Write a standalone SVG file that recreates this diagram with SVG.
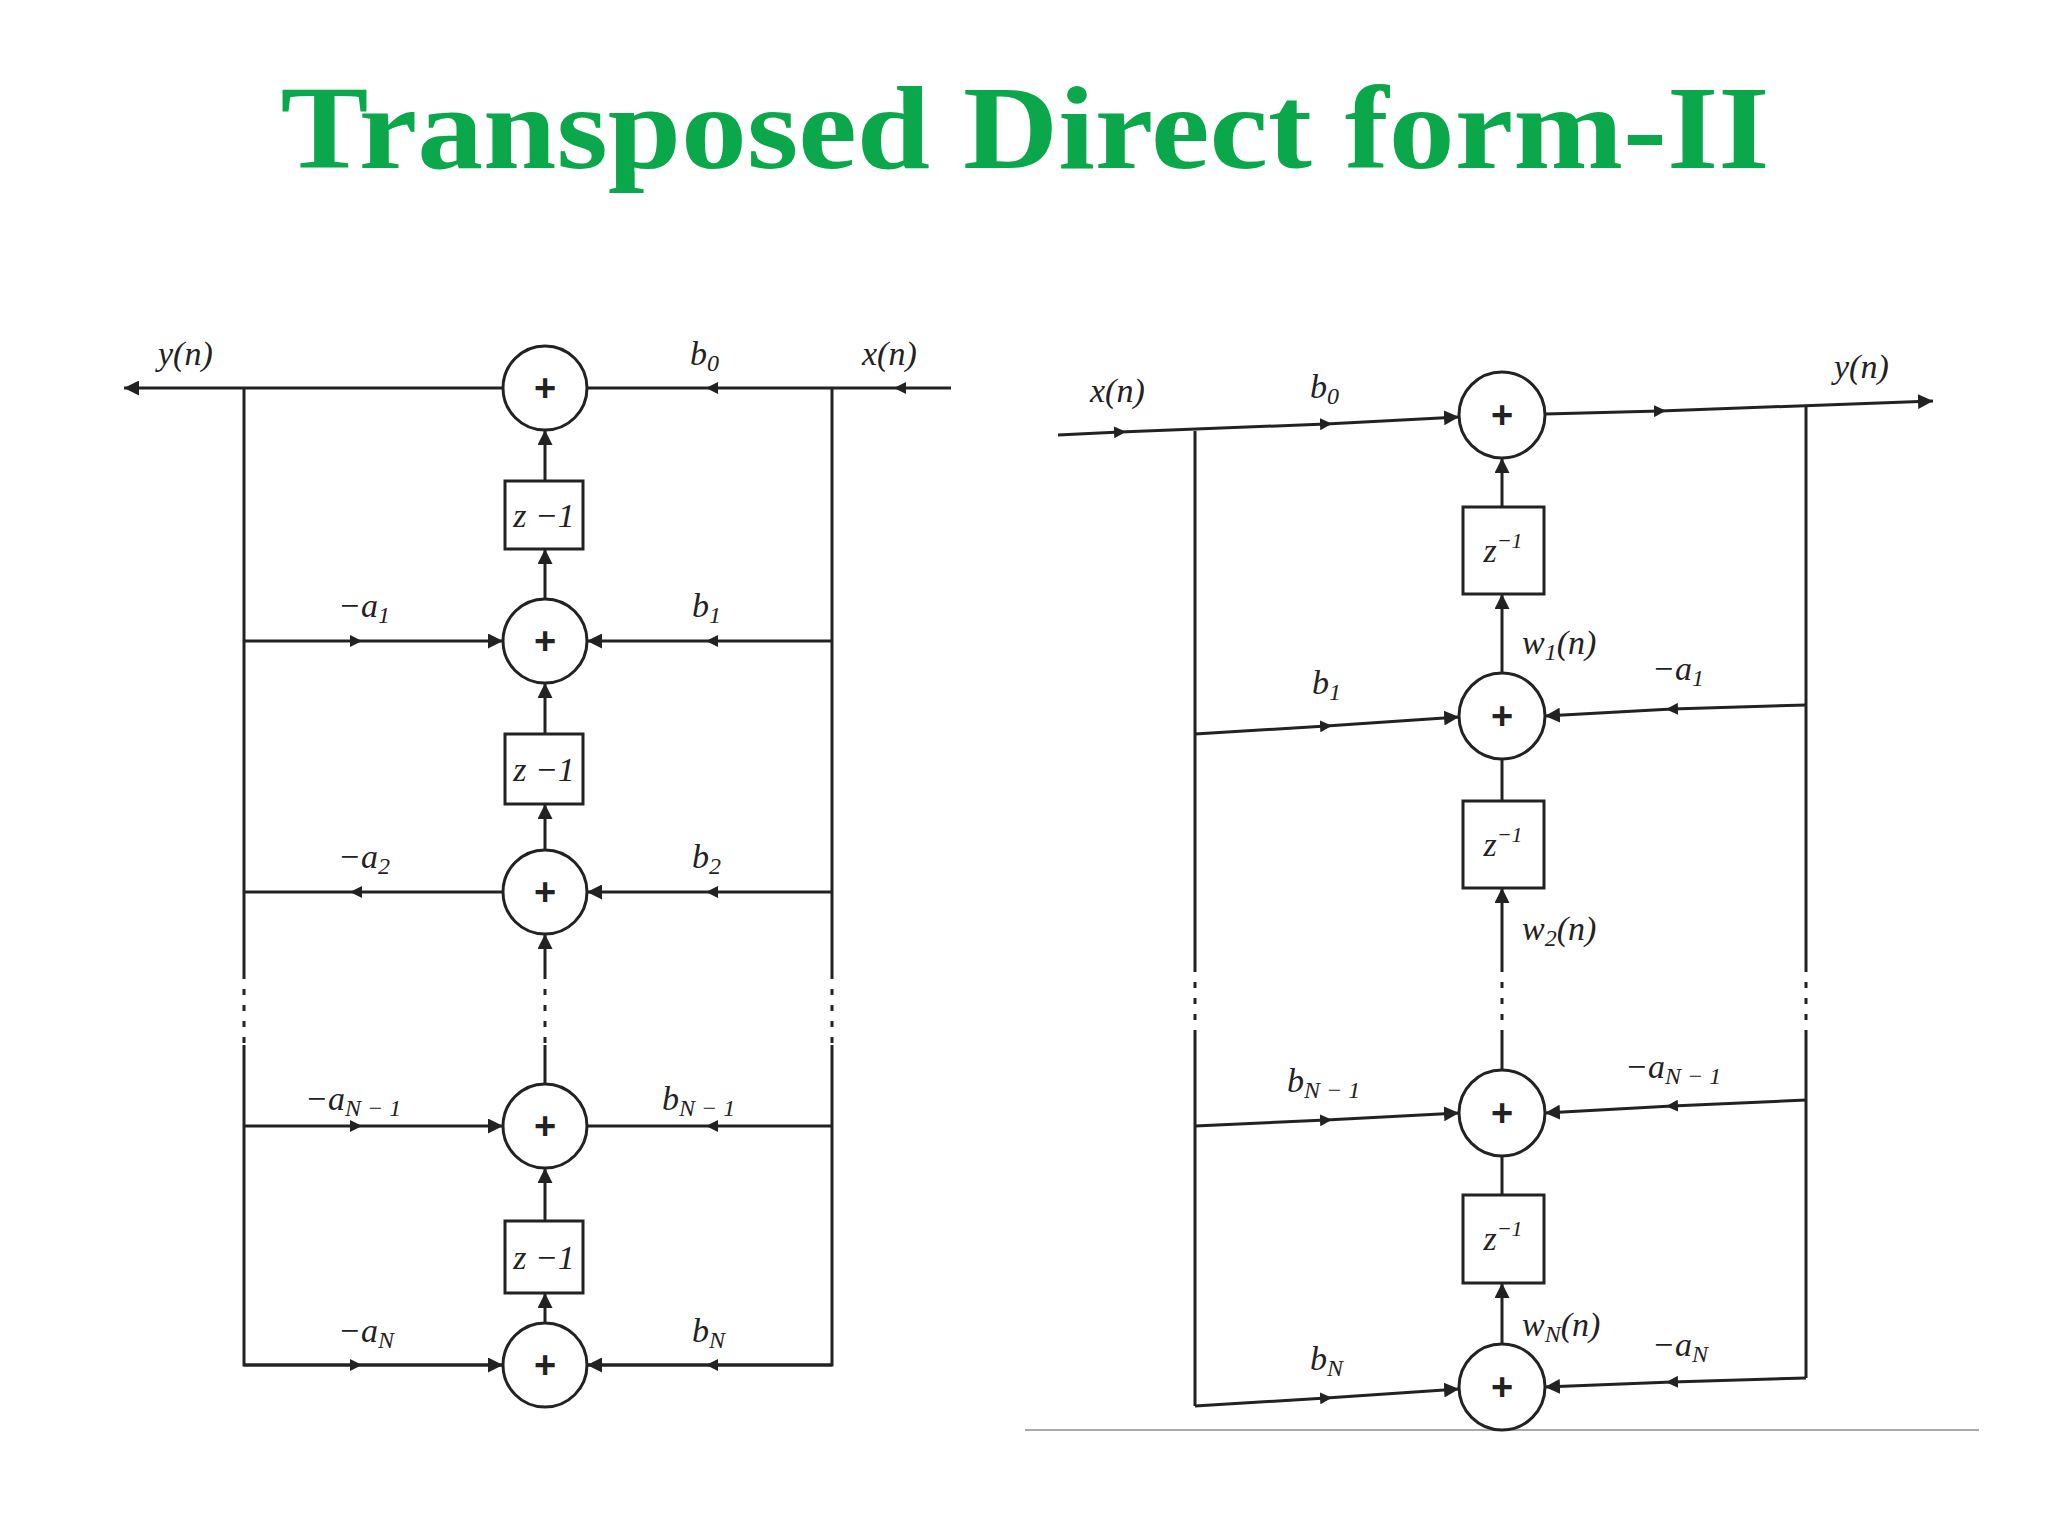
<svg xmlns="http://www.w3.org/2000/svg" width="2048" height="1536" viewBox="0 0 2048 1536">
<style>
.l{stroke:#222;stroke-width:3;fill:none}
.c{stroke:#222;stroke-width:3;fill:#fff}
.d{stroke:#222;stroke-width:3;stroke-dasharray:6 10;fill:none}
.t{font-family:"Liberation Serif",serif;font-style:italic;font-size:34px;fill:#222}
.p{font-family:"Liberation Sans",sans-serif;font-weight:bold;font-size:38px;fill:#222;text-anchor:middle}
.z{font-family:"Liberation Serif",serif;font-style:italic;font-size:34px;fill:#222;text-anchor:middle}
</style>
<defs>
<marker id="a" viewBox="0 0 10 10" refX="10" refY="5" markerWidth="5" markerHeight="5" orient="auto"><path d="M0,0L10,5L0,10z" fill="#222"/></marker>
<marker id="m" viewBox="0 0 10 10" refX="5" refY="5" markerWidth="4" markerHeight="4" orient="auto"><path d="M0,0L10,5L0,10z" fill="#222"/></marker>
</defs>
<rect width="2048" height="1536" fill="#fff"/>
<text x="1025" y="168" text-anchor="middle" font-family="Liberation Serif,serif" font-weight="bold" font-size="118" fill="#0aa84a" textLength="1489" lengthAdjust="spacingAndGlyphs">Transposed Direct form-II</text>
<g id="connectors">
<path class="l" d="M951,388L900,388" marker-end="url(#m)"/>
<path class="l" d="M900,388L832,388"/>
<path class="l" d="M832,388L712,388" marker-end="url(#m)"/>
<path class="l" d="M712,388L587,388"/>
<path class="l" d="M503,388L124,388" marker-end="url(#a)"/>
<path class="l" d="M244,388L244,973M244,1045L244,1365L503,1365"/>
<path class="d" d="M244,973L244,1045M545,973L545,1045M832,973L832,1045"/>
<path class="l" d="M832,388L832,973M832,1045L832,1365L587,1365"/>
<path class="l" d="M545,481L545,430" marker-end="url(#a)"/>
<path class="l" d="M545,599L545,549" marker-end="url(#a)"/>
<path class="l" d="M545,734L545,683" marker-end="url(#a)"/>
<path class="l" d="M545,850L545,804" marker-end="url(#a)"/>
<path class="l" d="M545,973L545,934" marker-end="url(#a)"/>
<path class="l" d="M545,1084L545,1045"/>
<path class="l" d="M545,1221L545,1168" marker-end="url(#a)"/>
<path class="l" d="M545,1323L545,1293" marker-end="url(#a)"/>
<path class="l" d="M244,641L356,641" marker-end="url(#m)"/><path class="l" d="M356,641L503,641" marker-end="url(#a)"/>
<path class="l" d="M832,641L712,641" marker-end="url(#m)"/><path class="l" d="M712,641L587,641" marker-end="url(#a)"/>
<path class="l" d="M503,892L356,892" marker-end="url(#m)"/><path class="l" d="M356,892L244,892"/>
<path class="l" d="M832,892L712,892" marker-end="url(#m)"/><path class="l" d="M712,892L587,892" marker-end="url(#a)"/>
<path class="l" d="M244,1126L356,1126" marker-end="url(#m)"/><path class="l" d="M356,1126L503,1126" marker-end="url(#a)"/>
<path class="l" d="M832,1126L712,1126" marker-end="url(#m)"/><path class="l" d="M712,1126L587,1126"/>
<path class="l" d="M244,1365L356,1365" marker-end="url(#m)"/><path class="l" d="M356,1365L503,1365" marker-end="url(#a)"/>
<path class="l" d="M832,1365L712,1365" marker-end="url(#m)"/><path class="l" d="M712,1365L587,1365" marker-end="url(#a)"/>
<path class="l" d="M1058,435L1120,432" marker-end="url(#m)"/><path class="l" d="M1120,432L1326,424" marker-end="url(#m)"/><path class="l" d="M1326,424L1459,417" marker-end="url(#a)"/>
<path class="l" d="M1545,414L1660,411" marker-end="url(#m)"/><path class="l" d="M1660,411L1933,401" marker-end="url(#a)"/>
<path class="l" d="M1195,431L1195,966M1195,1032L1195,1406"/>
<path class="d" d="M1195,966L1195,1032M1502,966L1502,1032M1806,966L1806,1032"/>
<path class="l" d="M1806,407L1806,966M1806,1032L1806,1378"/>
<path class="l" d="M1502,507L1502,458" marker-end="url(#a)"/>
<path class="l" d="M1502,673L1502,594" marker-end="url(#a)"/>
<path class="l" d="M1502,801L1502,759"/>
<path class="l" d="M1502,966L1502,888" marker-end="url(#a)"/>
<path class="l" d="M1502,1070L1502,1032"/>
<path class="l" d="M1502,1195L1502,1156"/>
<path class="l" d="M1502,1344L1502,1283" marker-end="url(#a)"/>
<path class="l" d="M1195,734L1326,726" marker-end="url(#m)"/><path class="l" d="M1326,726L1459,717" marker-end="url(#a)"/>
<path class="l" d="M1806,705L1672,709" marker-end="url(#m)"/><path class="l" d="M1672,709L1545,716" marker-end="url(#a)"/>
<path class="l" d="M1195,1126L1326,1120" marker-end="url(#m)"/><path class="l" d="M1326,1120L1459,1113" marker-end="url(#a)"/>
<path class="l" d="M1806,1100L1672,1106" marker-end="url(#m)"/><path class="l" d="M1672,1106L1545,1113" marker-end="url(#a)"/>
<path class="l" d="M1195,1406L1326,1398" marker-end="url(#m)"/><path class="l" d="M1326,1398L1459,1389" marker-end="url(#a)"/>
<path class="l" d="M1806,1378L1672,1382" marker-end="url(#m)"/><path class="l" d="M1672,1382L1545,1387" marker-end="url(#a)"/>
<path d="M1025,1430L1979,1430" stroke="#aaa" stroke-width="2"/>
</g>
<g id="L-s0"><circle class="c" cx="545" cy="388" r="42"/><text class="p" x="545" y="401">+</text></g>
<g id="L-z1"><rect class="c" x="505" y="481" width="78" height="68"/><text class="z" x="544" y="527">z −1</text></g>
<g id="L-s1"><circle class="c" cx="545" cy="641" r="42"/><text class="p" x="545" y="654">+</text></g>
<g id="L-z2"><rect class="c" x="505" y="734" width="78" height="70"/><text class="z" x="544" y="781">z −1</text></g>
<g id="L-s2"><circle class="c" cx="545" cy="892" r="42"/><text class="p" x="545" y="905">+</text></g>
<g id="L-sN1"><circle class="c" cx="545" cy="1126" r="42"/><text class="p" x="545" y="1139">+</text></g>
<g id="L-zN"><rect class="c" x="505" y="1221" width="78" height="72"/><text class="z" x="544" y="1269">z −1</text></g>
<g id="L-sN"><circle class="c" cx="545" cy="1365" r="42"/><text class="p" x="545" y="1378">+</text></g>
<g id="L-labels">
<text class="t" x="158" y="365">y(n)</text><text class="t" x="690" y="365">b<tspan font-size="24" dy="6">0</tspan></text><text class="t" x="862" y="365">x(n)</text>
<text class="t" x="338" y="617">−a<tspan font-size="24" dy="6">1</tspan></text><text class="t" x="692" y="617">b<tspan font-size="24" dy="6">1</tspan></text>
<text class="t" x="338" y="868">−a<tspan font-size="24" dy="6">2</tspan></text><text class="t" x="692" y="868">b<tspan font-size="24" dy="6">2</tspan></text>
<text class="t" x="305" y="1110">−a<tspan font-size="24" dy="6">N − 1</tspan></text><text class="t" x="662" y="1110">b<tspan font-size="24" dy="6">N − 1</tspan></text>
<text class="t" x="338" y="1342">−a<tspan font-size="24" dy="6">N</tspan></text><text class="t" x="692" y="1342">b<tspan font-size="24" dy="6">N</tspan></text>
</g>
<g id="R-s0"><circle class="c" cx="1502" cy="415" r="43"/><text class="p" x="1502" y="428">+</text></g>
<g id="R-z1"><rect class="c" x="1463" y="507" width="81" height="87"/><text class="z" x="1503" y="562">z<tspan font-size="22" dy="-14">−1</tspan></text></g>
<g id="R-s1"><circle class="c" cx="1502" cy="716" r="43"/><text class="p" x="1502" y="729">+</text></g>
<g id="R-z2"><rect class="c" x="1463" y="801" width="81" height="87"/><text class="z" x="1503" y="856">z<tspan font-size="22" dy="-14">−1</tspan></text></g>
<g id="R-sN1"><circle class="c" cx="1502" cy="1113" r="43"/><text class="p" x="1502" y="1126">+</text></g>
<g id="R-zN"><rect class="c" x="1463" y="1195" width="81" height="88"/><text class="z" x="1503" y="1250">z<tspan font-size="22" dy="-14">−1</tspan></text></g>
<g id="R-sN"><circle class="c" cx="1502" cy="1387" r="43"/><text class="p" x="1502" y="1400">+</text></g>
<g id="R-labels">
<text class="t" x="1090" y="402">x(n)</text><text class="t" x="1310" y="398">b<tspan font-size="24" dy="6">0</tspan></text><text class="t" x="1834" y="378">y(n)</text>
<text class="t" x="1522" y="654">w<tspan font-size="24" dy="6">1</tspan><tspan dy="-6">(n)</tspan></text><text class="t" x="1652" y="680">−a<tspan font-size="24" dy="6">1</tspan></text><text class="t" x="1312" y="694">b<tspan font-size="24" dy="6">1</tspan></text>
<text class="t" x="1522" y="940">w<tspan font-size="24" dy="6">2</tspan><tspan dy="-6">(n)</tspan></text>
<text class="t" x="1287" y="1092">b<tspan font-size="24" dy="6">N − 1</tspan></text><text class="t" x="1625" y="1078">−a<tspan font-size="24" dy="6">N − 1</tspan></text>
<text class="t" x="1522" y="1336">w<tspan font-size="24" dy="6">N</tspan><tspan dy="-6">(n)</tspan></text><text class="t" x="1652" y="1356">−a<tspan font-size="24" dy="6">N</tspan></text><text class="t" x="1310" y="1370">b<tspan font-size="24" dy="6">N</tspan></text>
</g>
</svg>
